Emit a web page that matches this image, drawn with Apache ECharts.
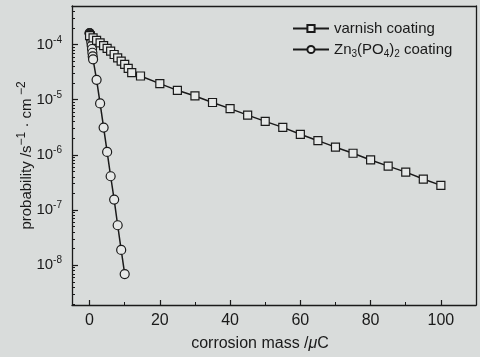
<!DOCTYPE html>
<html>
<head>
<meta charset="utf-8">
<script src="https://cdn.jsdelivr.net/npm/echarts@6/dist/echarts.min.js"></script>
<style>
  html, body { margin: 0; padding: 0; background: #d9dcdb; }
  #chart { width: 480px; height: 357px; }
</style>
</head>
<body>
<div id="chart"></div>
<script>
// varnish coating (squares)
const varnishX = [0, 1, 2, 3, 4, 5, 6, 7, 8, 9, 10, 11, 12, 14.5,
  20, 25, 30, 35, 40, 45, 50, 55, 60, 65, 70, 75, 80, 85, 90, 95, 100]
const varnishY = [1.45e-4, 1.32e-4, 1.19e-4, 1.07e-4, 9.6e-5, 8.5e-5, 7.6e-5, 6.6e-5,
  5.75e-5, 5.0e-5, 4.36e-5, 3.7e-5, 3.1e-5, 2.69e-5,
  1.96e-5, 1.48e-5, 1.17e-5, 8.9e-6, 6.9e-6, 5.26e-6, 4.05e-6, 3.15e-6, 2.36e-6,
  1.81e-6, 1.38e-6, 1.07e-6, 8.1e-7, 6.25e-7, 4.87e-7, 3.65e-7, 2.8e-7]

// Zn3(PO4)2 coating (circles)
const znX = [0, 0.05, 0.1, 0.15, 0.2, 0.3, 0.4, 0.5, 0.6, 0.7, 0.8, 0.9,
  1, 2, 3, 4, 5, 6, 7, 8, 9, 10]
const znY = [1.62e-4, 1.6e-4, 1.57e-4, 1.53e-4, 1.48e-4, 1.38e-4, 1.25e-4, 1.1e-4,
  9.6e-5, 8.3e-5, 7.1e-5, 6.1e-5,
  5.4e-5, 2.29e-5, 8.55e-6, 3.13e-6, 1.13e-6, 4.1e-7, 1.55e-7, 5.3e-8, 1.89e-8, 6.9e-9]

const xTicks = [0, 20, 40, 60, 80, 100]
const xMinorTicks = [10, 30, 50, 70, 90]
const yTicks = [1e-8, 1e-7, 1e-6, 1e-5, 1e-4]
const yMinorTicks = []
for (let e = -9; e <= -4; e++) {
  for (let m = 2; m <= 9; m++) {
    const v = m * Math.pow(10, e)
    if (v > 1.9e-9 && v < 5e-4) yMinorTicks.push(v)
  }
}

const FONT = 'Liberation Sans, Arial, sans-serif'
const INK = '#1a1a1a'
const X_MIN = -5
const X_MAX = 110
const Y_MIN = 1.9e-9
const Y_MAX = 5e-4

const chart = echarts.init(document.getElementById('chart'))

function zip (xs, ys) {
  return xs.map((x, i) => [x, ys[i]])
}

const axisLine = { show: true, onZero: false, lineStyle: { color: INK, width: 1.3 } }
const supStyle = { fontSize: 10, padding: [0, 0, 9, 0], fontFamily: FONT, color: INK }

// tick-only axis: pulled into the plot by `len` so its outward ticks
// end on the real axis line (ticks point inwards like in the reference)
function tickAxis (kind, pos, ticks, len, width) {
  const ax = {
    type: kind === 'x' ? 'value' : 'log',
    min: kind === 'x' ? X_MIN : Y_MIN,
    max: kind === 'x' ? X_MAX : Y_MAX,
    position: pos,
    offset: -len,
    axisLine: { show: false, onZero: false },
    axisTick: { show: true, inside: false, length: len, lineStyle: { color: INK, width: width }, customValues: ticks },
    axisLabel: { show: false },
    splitLine: { show: false }
  }
  if (kind === 'y') ax.logBase = 10
  return ax
}

// frame-only axis for the top and right edges
function frameAxis (kind, pos) {
  const ax = {
    type: kind === 'x' ? 'value' : 'log',
    min: kind === 'x' ? X_MIN : Y_MIN,
    max: kind === 'x' ? X_MAX : Y_MAX,
    position: pos,
    axisLine: axisLine,
    axisTick: { show: false },
    axisLabel: { show: false },
    splitLine: { show: false }
  }
  if (kind === 'y') ax.logBase = 10
  return ax
}

const option = {
  backgroundColor: '#d9dcdb',
  animation: false,
  textStyle: { fontFamily: FONT, color: INK },
  grid: {
    left: 72,
    right: 4,
    top: 6,
    bottom: 50
  },
  legend: {
    orient: 'vertical',
    left: 292,
    top: 21,
    padding: 0,
    itemWidth: 36,
    itemHeight: 9,
    itemGap: 6,
    textStyle: {
      fontFamily: FONT,
      fontSize: 15,
      color: INK,
      rich: {
        sub: { fontSize: 10, padding: [9, 0, 0, 0], fontFamily: FONT, color: INK }
      }
    },
    formatter: function (name) {
      if (name === 'Zn3(PO4)2 coating') return 'Zn{sub|3}(PO{sub|4}){sub|2} coating'
      return name
    },
    data: ['varnish coating', 'Zn3(PO4)2 coating']
  },
  xAxis: [
    {
      type: 'value',
      min: X_MIN,
      max: X_MAX,
      position: 'bottom',
      name: 'corrosion mass /{it|μ}C',
      nameLocation: 'middle',
      nameGap: 31,
      nameTextStyle: {
        fontFamily: FONT,
        fontSize: 16,
        color: INK,
        padding: [0, 28, 0, 0],
        rich: { it: { fontStyle: 'italic', fontSize: 16, fontFamily: FONT, color: INK } }
      },
      axisLine: axisLine,
      axisTick: { show: false },
      axisLabel: { fontSize: 16, color: INK, margin: 8, customValues: xTicks },
      splitLine: { show: false }
    },
    tickAxis('x', 'bottom', xTicks, 5, 1.2),
    tickAxis('x', 'bottom', xMinorTicks, 3, 1),
    frameAxis('x', 'top')
  ],
  yAxis: [
    {
      type: 'log',
      logBase: 10,
      min: Y_MIN,
      max: Y_MAX,
      position: 'left',
      name: 'probability /s{sup|−1} · cm{sup| −2}',
      nameLocation: 'middle',
      nameRotate: 90,
      nameGap: 35,
      nameMoveOverlap: false,
      nameTextStyle: {
        fontFamily: FONT,
        fontSize: 15,
        color: INK,
        rich: { sup: { fontSize: 12, padding: [0, 0, 9, 0], fontFamily: FONT, color: INK } }
      },
      axisLine: axisLine,
      axisTick: { show: false },
      axisLabel: {
        fontSize: 15,
        color: INK,
        margin: 10,
        customValues: yTicks,
        formatter: function (v) {
          return '10{sup|' + Math.round(Math.log10(v)) + '}'
        },
        rich: { sup: supStyle }
      },
      splitLine: { show: false }
    },
    tickAxis('y', 'left', yTicks, 6, 1.2),
    tickAxis('y', 'left', yMinorTicks, 3, 1),
    frameAxis('y', 'right')
  ],
  series: [
    {
      name: 'Zn3(PO4)2 coating',
      type: 'line',
      xAxisIndex: 0,
      yAxisIndex: 0,
      data: zip(znX, znY),
      symbol: 'circle',
      symbolSize: 9,
      lineStyle: { color: INK, width: 1.5 },
      itemStyle: { color: '#e6e8e7', borderColor: INK, borderWidth: 1.2 }
    },
    {
      name: 'varnish coating',
      type: 'line',
      xAxisIndex: 0,
      yAxisIndex: 0,
      data: zip(varnishX, varnishY),
      symbol: 'rect',
      symbolSize: 8,
      lineStyle: { color: INK, width: 1.5 },
      itemStyle: { color: '#e6e8e7', borderColor: INK, borderWidth: 1.2 }
    }
  ]
}

chart.setOption(option)
window.addEventListener('resize', function () {
  chart.resize()
})
</script>
</body>
</html>
